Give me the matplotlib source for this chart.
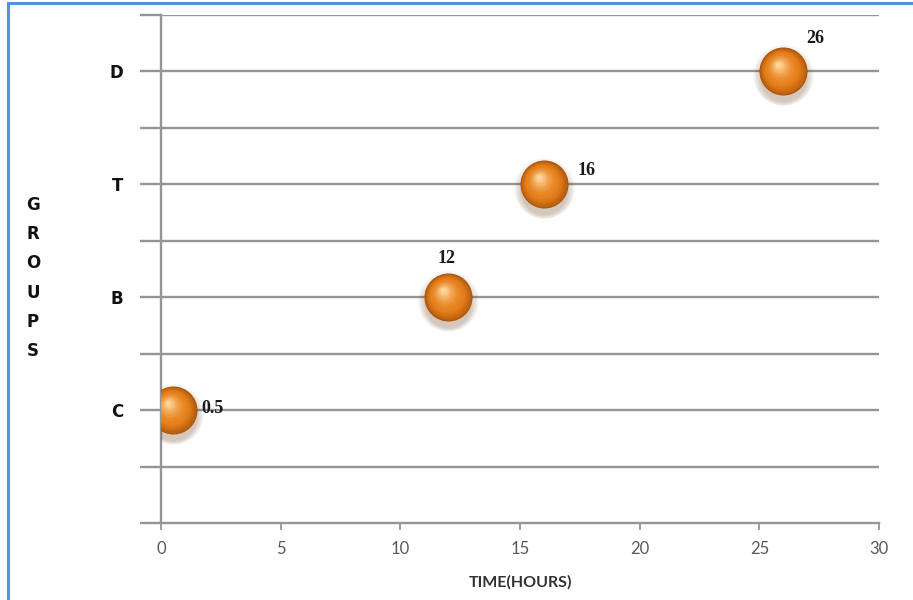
import numpy as np
import matplotlib
matplotlib.use('Agg')
from matplotlib import pyplot as plt
from matplotlib import transforms
from matplotlib.colors import to_rgb
from matplotlib.lines import Line2D

# hours spent by each group
groups = ['C', 'B', 'T', 'D']
group_pos = [1, 2, 3, 4]
hours = [0.5, 12, 16, 26]
label_text = ['0.5', '12', '16', '26']
# label offsets (pixels) from the bubble centre
label_dx = [40, -2, 43, 32]
label_dy = [2, 39, 14, 33]

x_ticks = [0, 5, 10, 15, 20, 25, 30]

fig = plt.figure(figsize=(9.13, 6.0), dpi=100)
ax = fig.add_axes([161 / 913, 1 - 523 / 600, 718 / 913, 508 / 600])

grid_col = '#959595'
ax.set_xlim(0, 30)
ax.set_ylim(0, 4.5)
for y in np.arange(0.5, 4.51, 0.5):
    ax.axhline(y, color=grid_col, lw=1.7, zorder=1)

for s in ['top', 'right']:
    ax.spines[s].set_visible(False)
ax.spines['left'].set_color(grid_col)
ax.spines['bottom'].set_color(grid_col)
ax.spines['left'].set_linewidth(1.7)
ax.spines['bottom'].set_linewidth(1.7)

ax.set_xticks(x_ticks)
ax.set_xticklabels([str(t) for t in x_ticks], fontfamily='Lato', fontsize=12,
                   color='#595959')
ax.tick_params(axis='x', length=5, width=1.3, color=grid_col, pad=8)

ax.set_yticks(np.arange(0, 4.51, 0.5), minor=True)
ax.set_yticks(group_pos)
ax.set_yticklabels(groups, fontfamily='DejaVu Sans', fontweight='bold',
                   fontsize=12, color='#111111')
ax.tick_params(axis='y', which='both', length=15, width=1.7, color=grid_col, pad=12)

ax.set_xlabel('TIME(HOURS)', fontfamily='Lato', fontweight='bold', fontsize=11.5,
              color='#333333', labelpad=13)
fig.text(33 / 913, 1 - 278 / 600, '\n'.join('GROUPS'), ha='center', va='center',
         fontfamily='DejaVu Sans', fontweight='bold', fontsize=12,
         color='#111111', linespacing=1.8)

# shaded spheres: soft shadow first, then a radial ramp dark edge -> highlight
edge = np.array(to_rgb('#a9530a'))
mid = np.array(to_rgb('#e6811c'))
light = np.array(to_rgb('#ffd59a'))
base_d = 48 * 72 / 100
for k in range(6):
    shift = transforms.offset_copy(ax.transData, fig=fig, x=0, y=-4 - k * 0.6,
                                   units='dots')
    ax.scatter(hours, group_pos, s=(base_d + 9 - k * 2) ** 2, color='#6b3a10',
               alpha=0.05, lw=0, transform=shift, zorder=3)
n = 32
for i in range(n):
    f = i / (n - 1)
    d = base_d * (1 - 0.9 * f)
    if f < 0.35:
        col = edge + (mid - edge) * (f / 0.35) ** 0.7
    else:
        col = mid + (light - mid) * ((f - 0.35) / 0.65) ** 1.6
    shift = transforms.offset_copy(ax.transData, fig=fig, x=-5 * f, y=7 * f,
                                   units='dots')
    ax.scatter(hours, group_pos, s=d ** 2, color=col, lw=0, transform=shift,
               zorder=4)

for x, y, t, dx, dy in zip(hours, group_pos, label_text, label_dx, label_dy):
    ax.annotate(t, (x, y), xytext=(dx, dy), textcoords='offset pixels',
                ha='center', va='center', fontfamily='Liberation Serif',
                fontweight='bold', fontsize=13, color='#1a1a1a', zorder=5)

# blue frame
fig.add_artist(Line2D([8 / 913, 8 / 913], [0, 1 - 3 / 600], transform=fig.transFigure,
                      color='#5b8fd9', lw=2.2))
fig.add_artist(Line2D([8 / 913, 1], [1 - 3 / 600, 1 - 3 / 600], transform=fig.transFigure,
                      color='#5b8fd9', lw=2.2))

fig.savefig('out.png', dpi=100)
